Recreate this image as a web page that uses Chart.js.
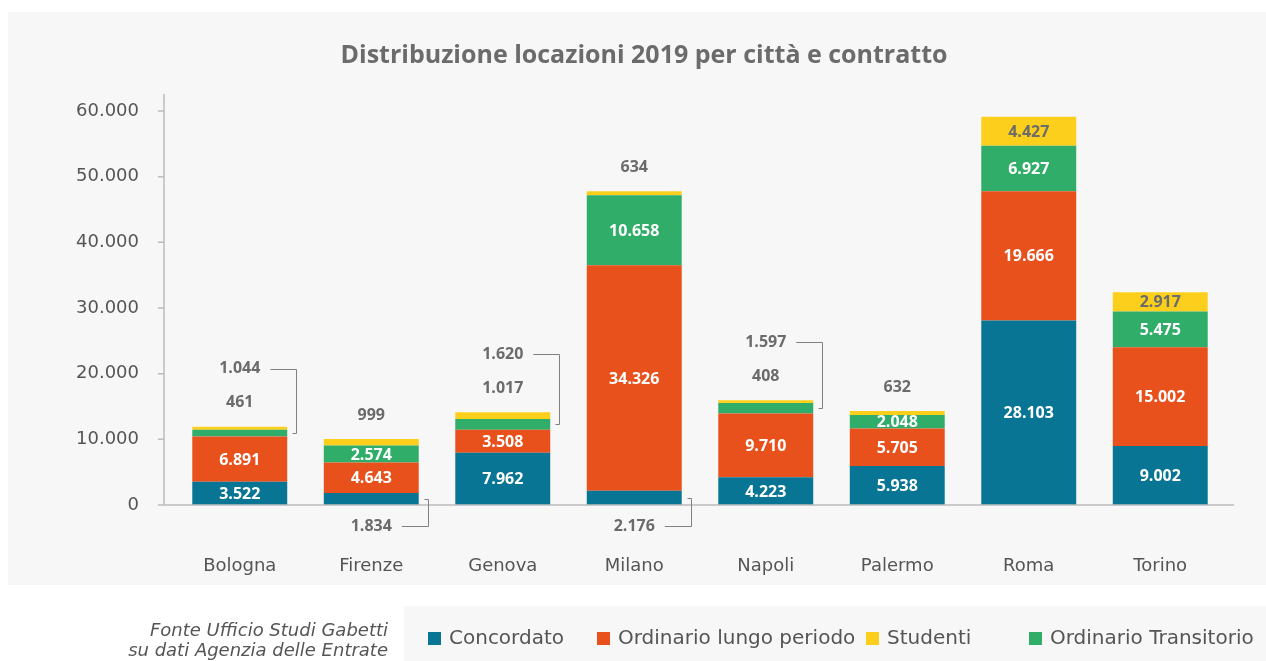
<!DOCTYPE html>
<html lang="it">
<head>
<meta charset="utf-8">
<title>Distribuzione locazioni 2019 per città e contratto</title>
<script src="https://cdn.jsdelivr.net/npm/chart.js@4.4.1/dist/chart.umd.min.js"></script>
<style>
  html, body { margin: 0; padding: 0; background: #fff; }
  #wrap { width: 1266px; height: 661px; }
</style>
</head>
<body>
<div id="wrap"><canvas id="locazioni" width="1266" height="661"></canvas></div>
<script>
// dati (numero di locazioni 2019)
var cities = ["Bologna", "Firenze", "Genova", "Milano", "Napoli", "Palermo", "Roma", "Torino"];
var concordato = [3522, 1834, 7962, 2176, 4223, 5938, 28103, 9002];
var ordinarioLungo = [6891, 4643, 3508, 34326, 9710, 5705, 19666, 15002];
var ordinarioTransitorio = [1044, 2574, 1620, 10658, 1597, 2048, 6927, 5475];
var studenti = [461, 999, 1017, 634, 408, 632, 4427, 2917];
var yTicks = [0, 10000, 20000, 30000, 40000, 50000, 60000];

var colors = {
    concordato: "#087594",
    lungo: "#e8501c",
    transitorio: "#30ad68",
    studenti: "#fccf1d"
};

var labelGray = "#6b6b6b";
var axisGray = "#bcbcbc";

function fmt(v) {
    return String(v).replace(/\B(?=(\d{3})+(?!\d))/g, ".");
}

// sfondo: pannello grigio del grafico e riquadro della legenda
var background = {
    id: "background",
    beforeDraw: function (chart) {
        var ctx = chart.ctx;
        ctx.save();
        ctx.fillStyle = "#ffffff";
        ctx.fillRect(0, 0, chart.width, chart.height);
        ctx.fillStyle = "#f7f7f7";
        ctx.fillRect(8, 12, chart.width - 8, 573);
        ctx.fillRect(404, 606, chart.width - 404, 55);
        ctx.restore();
    }
};

// assi disegnati a mano (linea verticale, tacche, linea di base)
var axes = {
    id: "axes",
    afterDatasetsDraw: function (chart) {
        var ctx = chart.ctx, area = chart.chartArea, ys = chart.scales.y;
        var ax = area.left - 10;
        var y0 = ys.getPixelForValue(0);
        ctx.save();
        ctx.strokeStyle = axisGray;
        ctx.lineWidth = 1.5;
        ctx.beginPath();
        ctx.moveTo(ax, 94);
        ctx.lineTo(ax, y0);
        yTicks.forEach(function (t) {
            var y = ys.getPixelForValue(t);
            ctx.moveTo(ax - 6, y);
            ctx.lineTo(ax, y);
        });
        ctx.moveTo(ax - 6, y0);
        ctx.lineTo(area.right + 8, y0);
        ctx.stroke();
        ctx.restore();
    }
};

// etichette dei valori, dentro le barre o fuori con la parentesi
var insideMin = [3000, 0, 2000, 2500];
var insideColor = ["#ffffff", "#ffffff", "#ffffff", labelGray];

function bracket(ctx, tx, ty, tw, segMid, right) {
    var bx = Math.round(right + 9) + 0.5;
    var y1 = Math.round(ty) + 0.5, y2 = Math.round(segMid) + 0.5;
    ctx.beginPath();
    ctx.moveTo(tx + tw / 2 + 10, y1);
    ctx.lineTo(bx, y1);
    ctx.lineTo(bx, y2);
    ctx.lineTo(bx - 4, y2);
    ctx.stroke();
}

var valueLabels = {
    id: "valueLabels",
    afterDatasetsDraw: function (chart) {
        var ctx = chart.ctx;
        var metas = chart.data.datasets.map(function (d, i) { return chart.getDatasetMeta(i); });
        var y0 = chart.scales.y.getPixelForValue(0);
        ctx.save();
        ctx.font = "bold 16px 'Open Sans'";
        ctx.textAlign = "center";
        ctx.textBaseline = "middle";
        ctx.lineWidth = 1;
        ctx.strokeStyle = "#808080";
        cities.forEach(function (c, j) {
            var top = metas[3].data[j].y;
            for (var i = 0; i < metas.length; i++) {
                var el = metas[i].data[j];
                var v = chart.data.datasets[i].data[j];
                var txt = fmt(v);
                var mid = (el.y + el.base) / 2;
                var right = el.x + el.width / 2;
                var tw = ctx.measureText(txt).width;
                if (v >= insideMin[i]) {
                    ctx.fillStyle = insideColor[i];
                    ctx.fillText(txt, el.x, mid + 1);
                } else if (i === 3) {
                    ctx.fillStyle = labelGray;
                    ctx.fillText(txt, el.x, top - 24);
                } else if (i === 2) {
                    ctx.fillStyle = labelGray;
                    ctx.fillText(txt, el.x, top - 58);
                    bracket(ctx, el.x, top - 58, tw, mid, right);
                } else {
                    ctx.fillStyle = labelGray;
                    ctx.fillText(txt, el.x, y0 + 21);
                    bracket(ctx, el.x, y0 + 21, tw, mid, right);
                }
            }
        });
        ctx.restore();
    }
};

// titolo, fonte e legenda
var legendOrder = [0, 1, 3, 2];
var legendX = [428, 597, 866, 1029];

var extras = {
    id: "extras",
    afterDraw: function (chart) {
        var ctx = chart.ctx;
        ctx.save();
        ctx.fillStyle = labelGray;
        ctx.font = "bold 25px 'Open Sans'";
        ctx.textAlign = "center";
        ctx.textBaseline = "alphabetic";
        ctx.fillText("Distribuzione locazioni 2019 per città e contratto", 644, 63);

        ctx.fillStyle = "#555555";
        ctx.font = "italic 18px 'DejaVu Sans'";
        ctx.textAlign = "right";
        ctx.textBaseline = "middle";
        ctx.fillText("Fonte Ufficio Studi Gabetti", 388, 631);
        ctx.fillText("su dati Agenzia delle Entrate", 388, 651);

        ctx.font = "20px 'DejaVu Sans'";
        ctx.textAlign = "left";
        legendOrder.forEach(function (di, k) {
            var ds = chart.data.datasets[di];
            ctx.fillStyle = ds.backgroundColor;
            ctx.fillRect(legendX[k], 632, 13, 13);
            ctx.fillStyle = "#555555";
            ctx.fillText(ds.label, legendX[k] + 21, 639);
        });
        ctx.restore();
    }
};

var ctx = document.getElementById("locazioni").getContext("2d");
var chart = new Chart(ctx, {
    type: "bar",
    data: {
        labels: cities,
        datasets: [{
            label: "Concordato",
            backgroundColor: colors.concordato,
            data: concordato
        }, {
            label: "Ordinario lungo periodo",
            backgroundColor: colors.lungo,
            data: ordinarioLungo
        }, {
            label: "Ordinario Transitorio",
            backgroundColor: colors.transitorio,
            data: ordinarioTransitorio
        }, {
            label: "Studenti",
            backgroundColor: colors.studenti,
            data: studenti
        }]
    },
    options: {
        responsive: false,
        animation: false,
        devicePixelRatio: 1,
        barPercentage: 0.722,
        categoryPercentage: 1,
        borderWidth: 0,
        layout: {
            padding: { left: 8, right: 40, top: 111, bottom: 76 }
        },
        plugins: {
            legend: { display: false },
            title: { display: false },
            tooltip: { enabled: false }
        },
        scales: {
            x: {
                stacked: true,
                grid: { display: false },
                border: { display: false },
                ticks: {
                    color: "#555555",
                    font: { family: "'DejaVu Sans'", size: 18 },
                    padding: 43,
                    maxRotation: 0
                },
                afterFit: function (scale) { scale.height = 80; }
            },
            y: {
                stacked: true,
                min: 0,
                max: 60000,
                grid: { display: false },
                border: { display: false },
                ticks: {
                    color: "#555555",
                    font: { family: "'DejaVu Sans'", size: 18 },
                    padding: 27,
                    callback: function (v) { return fmt(v); }
                },
                afterBuildTicks: function (scale) {
                    scale.ticks = yTicks.map(function (v) { return { value: v }; });
                },
                afterFit: function (scale) { scale.width = 166; }
            }
        }
    },
    plugins: [background, axes, valueLabels, extras]
});
</script>
</body>
</html>
